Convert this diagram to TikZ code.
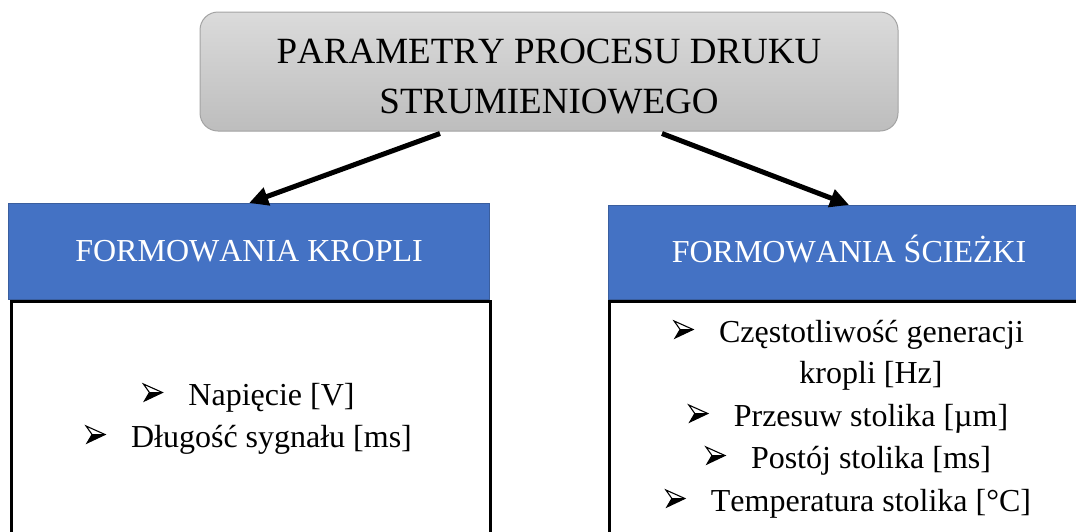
\documentclass[tikz,border=0pt]{standalone}
\usepackage{fontspec}
\setmainfont{Liberation Serif}[Kerning=Off]
\usetikzlibrary{arrows.meta}

\definecolor{headblue}{HTML}{4472C4}
\definecolor{headedge}{HTML}{3A5E9E}
\definecolor{titletop}{HTML}{DBDBDB}
\definecolor{titlebottom}{HTML}{BDBDBD}
\definecolor{titleedge}{HTML}{A3A3A3}

% arrowhead bullet (light upper half, dark lower half) followed by a fixed tab
\newcommand\bul{\makebox[45pt][l]{\tikz[baseline=0pt,x=1pt,y=1pt,line join=miter]{%
  \useasboundingbox (0,0) rectangle (19,21);
  \fill[black] (6,12.5) -- (19,12.5) -- (1,4) -- cycle;
  \draw[line width=1.1pt] (0,21) -- (19,12.5) -- (1,4) -- (6,12.5) -- cycle;
  \draw[line width=0.8pt] (6,12.5) -- (19,12.5);}}}
% two centred lines, baseline on the first one
\newcommand\titletext{\vtop{\halign{\hfil##\hfil\cr PARAMETRY PROCESU DRUKU\cr STRUMIENIOWEGO\cr}}}

\tikzset{
  titlebox/.style={draw=titleedge, line width=1pt, rounded corners=18pt,
    top color=titletop, bottom color=titlebottom,
    minimum width=698pt, minimum height=119pt, inner sep=0pt,
    font=\fontsize{37}{50}\selectfont, text height=33pt, text depth=50pt},
  headbox/.style={draw=headedge, line width=1.2pt, fill=headblue,
    minimum width=481pt, minimum height=95.5pt, inner sep=0pt, text=white,
    font=\fontsize{32}{38}\selectfont, text height=21pt, text depth=0pt},
  bodybox/.style={draw=black, line width=3pt, fill=white,
    minimum height=260pt, inner sep=0pt},
  item/.style={anchor=base, inner sep=0pt, font=\fontsize{32}{38}\selectfont},
  link/.style={line width=5pt, -{Triangle[length=19pt,width=18pt]}}
}

\begin{document}
\begin{tikzpicture}[x=1pt,y=-1pt]
\useasboundingbox (0,0) rectangle (1076,531);
\clip (0,0) rectangle (1076,531);

% white panels
\node[bodybox, minimum width=479.5pt, anchor=north west] (leftbody) at (9.5,300) {};
\node[bodybox, minimum width=481.5pt, anchor=north west] (rightbody) at (607.5,300) {};

% blue headers
\node[headbox, anchor=north west] (lefthead) at (8,203) {FORMOWANIA KROPLI};
\node[headbox, minimum height=93.5pt, anchor=north west] (righthead) at (608,205) {FORMOWANIA ŚCIEŻKI};

% title
\node[titlebox] (top) at (549,71.5) {\titletext};

% connectors
\draw[link] ([xshift=-109pt,yshift=-2pt]top.south) -- (lefthead.north);
\draw[link] ([xshift=113pt,yshift=-2pt]top.south) -- (righthead.north);

% left list
\node[item] (napiecie) at (249,405) {\bul Napięcie [V]};
\node[item] (sygnal) at (249,447) {\bul Długość sygnału [ms]};

% right list
\node[item] (czest) at (849,342) {\bul Częstotliwość generacji};
\node[item] (czestb) at (871,383) {kropli [Hz]};
\node[item] (przesuw) at (848.5,426) {\bul Przesuw stolika [µm]};
\node[item] (postoj) at (848.5,468) {\bul Postój stolika [ms]};
\node[item] (temp) at (848.5,511) {\bul Temperatura stolika [°C]};
\end{tikzpicture}
\end{document}
